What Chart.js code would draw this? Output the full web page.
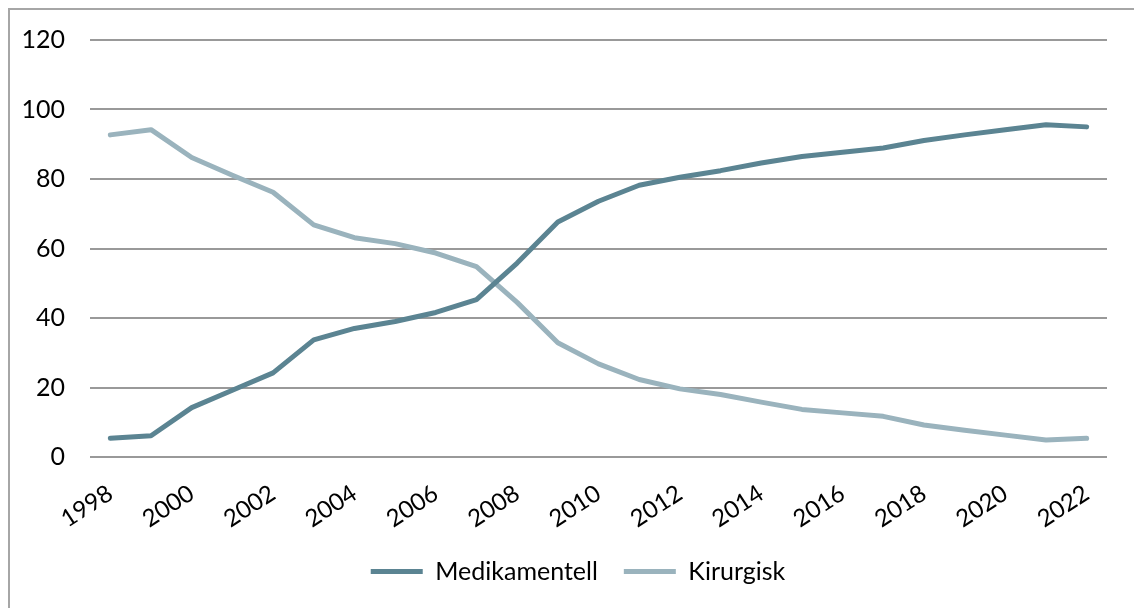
<!DOCTYPE html>
<html>
<head>
<meta charset="utf-8">
<script src="https://cdn.jsdelivr.net/npm/chart.js@4.4.0/dist/chart.umd.min.js"></script>
<style>
    html, body { margin: 0; padding: 0; background: #fff; }
    #wrap { position: relative; width: 1134px; height: 608px; overflow: hidden; }
    #frame { position: absolute; left: 8px; top: 8px; width: 1200px; height: 700px; border-left: 2px solid #a6a6a6; border-top: 2px solid #a6a6a6; box-sizing: border-box; }
    canvas { position: absolute; left: 0; top: 0; }
</style>
</head>
<body>
<div id="wrap">
    <div id="frame"></div>
    <canvas id="chart" width="1134" height="608"></canvas>
</div>
<script>
// Data
const years = ['1998', '1999', '2000', '2001', '2002', '2003', '2004', '2005', '2006', '2007', '2008', '2009', '2010',
               '2011', '2012', '2013', '2014', '2015', '2016', '2017', '2018', '2019', '2020', '2021', '2022'];
const medikamentell = [5.4, 6.1, 14.2, 19.2, 24.2, 33.7, 37.0, 39.0, 41.6, 45.3, 55.8, 67.6, 73.6,
                       78.2, 80.5, 82.4, 84.6, 86.5, 87.7, 88.9, 91.1, 92.7, 94.2, 95.6, 95.0];
const kirurgisk = [92.7, 94.2, 86.2, 81.1, 76.2, 66.8, 63.1, 61.4, 58.7, 54.8, 44.5, 32.9, 26.8,
                   22.3, 19.6, 18.0, 15.8, 13.7, 12.7, 11.7, 9.2, 7.7, 6.3, 4.9, 5.4];
const yTicks = [0, 20, 40, 60, 80, 100, 120];

const fontFamily = 'Lato, "Open Sans", sans-serif';
const textColor = '#000000';
const gridColor = '#999999';

const ctx = document.getElementById('chart').getContext('2d');
new Chart(ctx, {
    type: 'line',
    data: {
        labels: years,
        datasets: [
            {
                label: 'Medikamentell',
                data: medikamentell,
                borderColor: '#5b8492',
                backgroundColor: '#5b8492',
                borderWidth: 5,
                borderCapStyle: 'round',
                borderJoinStyle: 'round',
                pointRadius: 0,
                tension: 0
            },
            {
                label: 'Kirurgisk',
                data: kirurgisk,
                borderColor: '#9ab3bd',
                backgroundColor: '#9ab3bd',
                borderWidth: 5,
                borderCapStyle: 'round',
                borderJoinStyle: 'round',
                pointRadius: 0,
                tension: 0
            }
        ]
    },
    options: {
        responsive: false,
        animation: false,
        layout: {
            padding: { left: 22, right: 0, top: 36, bottom: 14 }
        },
        scales: {
            x: {
                offset: true,
                grid: { display: false },
                border: { display: false },
                ticks: {
                    color: textColor,
                    font: { family: fontFamily, size: 24 },
                    autoSkip: false,
                    minRotation: 33,
                    maxRotation: 33,
                    padding: 14,
                    callback: function(value, index) {
                        return index % 2 === 0 ? years[index] : '';
                    }
                },
                afterFit: function(scale) {
                    scale.height = 76;
                }
            },
            y: {
                min: 0,
                max: 120,
                afterBuildTicks: function(scale) {
                    scale.ticks = yTicks.map(v => ({ value: v }));
                },
                grid: {
                    color: gridColor,
                    lineWidth: 2,
                    drawTicks: false
                },
                border: { display: false },
                ticks: {
                    color: textColor,
                    font: { family: fontFamily, size: 25 },
                    padding: 25
                },
                afterFit: function(scale) {
                    scale.width = 68;
                }
            },
            // empty right axis, only keeps the plot clear of the right edge
            yRight: {
                position: 'right',
                grid: { display: false },
                border: { display: false },
                ticks: { display: false },
                afterFit: function(scale) {
                    scale.width = 27;
                }
            }
        },
        plugins: {
            legend: {
                position: 'bottom',
                labels: {
                    color: textColor,
                    font: { family: fontFamily, size: 25 },
                    usePointStyle: true,
                    pointStyle: 'line',
                    pointStyleWidth: 52,
                    boxHeight: 20,
                    padding: 26
                }
            },
            tooltip: { enabled: false }
        }
    }
});
</script>
</body>
</html>
